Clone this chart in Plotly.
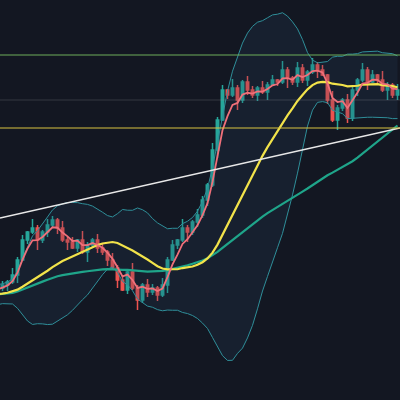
import pandas as pd
import plotly.graph_objects as go

# closes, in chart units (0 = bottom, 400 = top); first 20 are warm-up, off screen
warmup = [96, 100, 98, 104, 101, 107, 103, 99, 105, 110, 106, 102, 108, 112, 107, 104, 110, 114, 109, 112]
visible = [115, 118, 125, 140, 160, 168, 172, 160, 168, 175,
           180, 172, 160, 158, 152, 160, 148, 155, 160, 152,
           148, 140, 132, 120, 110, 128, 112, 100, 115, 108,
           112, 105, 115, 140, 155, 160, 172, 168, 178, 185,
           200, 215, 250, 280, 310, 305, 312, 300, 318, 310,
           305, 312, 308, 315, 320, 318, 330, 322, 318, 332,
           320, 328, 335, 330, 325, 300, 280, 292, 300, 282,
           310, 320, 330, 318, 325, 320, 310, 315, 305, 310]
closes = warmup + visible
wick_up = [4, 2, 7, 3, 5, 1, 9, 3, 2, 6]
wick_dn = [3, 6, 2, 8, 1, 4, 2, 10, 3, 5]

df = pd.DataFrame({"close": closes})
df["open"] = df["close"].shift(1).fillna(df["close"].iloc[0] - 3)
df["high"] = df[["open", "close"]].max(axis=1) + [wick_up[i % 10] for i in range(len(df))]
df["low"] = df[["open", "close"]].min(axis=1) - [wick_dn[i % 10] for i in range(len(df))]
df["fast"] = df["close"].ewm(span=4).mean()
df["ma20"] = df["close"].rolling(20, min_periods=1).mean()
df["ma50"] = df["close"].rolling(50, min_periods=1).mean()
std = df["close"].rolling(20, min_periods=2).std().fillna(10)
df["bb_up"] = df["ma20"] + 2 * std
df["bb_dn"] = df["ma20"] - 2 * std
x = list(range(len(df)))

fig = go.Figure()
fig.add_trace(go.Scatter(x=x, y=df["bb_up"], mode="lines", line=dict(color="#2f8f9a", width=1)))
fig.add_trace(go.Scatter(x=x, y=df["bb_dn"], mode="lines", line=dict(color="#2f8f9a", width=1),
                         fill="tonexty", fillcolor="rgba(40,70,100,0.2)"))
fig.add_trace(go.Scatter(x=x, y=df["ma50"], mode="lines", line=dict(color="#1fa58a", width=2.2)))
fig.add_trace(go.Scatter(x=x, y=df["ma20"], mode="lines", line=dict(color="#f2e34a", width=2.2)))
fig.add_trace(go.Candlestick(x=x, open=df["open"], high=df["high"], low=df["low"], close=df["close"],
                             whiskerwidth=0,
                             increasing=dict(line=dict(color="#26a69a", width=1.5), fillcolor="#26a69a"),
                             decreasing=dict(line=dict(color="#ef5350", width=1.5), fillcolor="#ef5350")))
fig.add_trace(go.Scatter(x=x, y=df["fast"], mode="lines", line=dict(color="#f0707a", width=1.8)))
fig.add_trace(go.Scatter(x=[19.5, 99.5], y=[182, 272], mode="lines", line=dict(color="#e8e8e8", width=1.5)))

fig.add_hline(y=345, line=dict(color="#6fae5a", width=1))
fig.add_hline(y=272, line=dict(color="#d9c440", width=1.2))
fig.add_hline(y=300, line=dict(color="rgba(150,150,160,0.25)", width=1))

fig.update_layout(width=400, height=400, margin=dict(l=0, r=0, t=0, b=0),
                  paper_bgcolor="#131722", plot_bgcolor="#131722", showlegend=False)
fig.update_xaxes(range=[19.5, 99.5], visible=False, rangeslider_visible=False)
fig.update_yaxes(range=[0, 400], visible=False)
fig.write_html("out.html", config={"displayModeBar": False},
               post_script="document.body.style.margin='0';document.body.style.background='#131722';")
